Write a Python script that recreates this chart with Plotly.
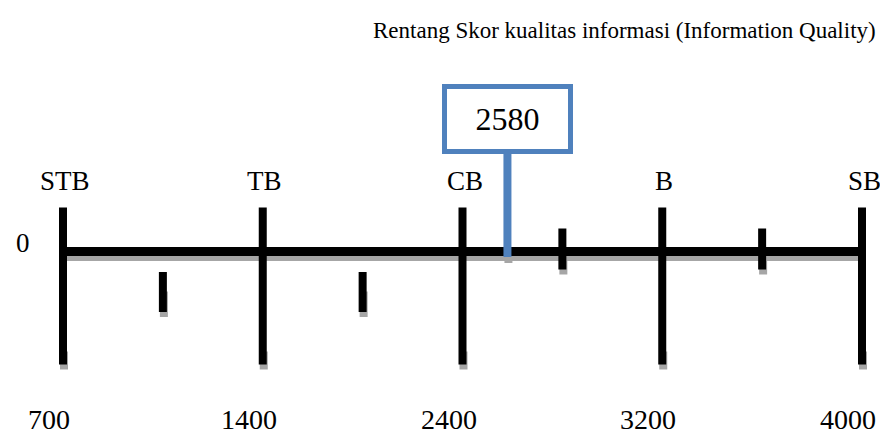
import numpy as np
import plotly.graph_objects as go

# ---- data ----
scale_values = [700, 1400, 2400, 3200, 4000]
category_labels = ["STB", "TB", "CB", "B", "SB"]
minor_values = [1050, 1900, 2800, 3600]
score = 2580
origin_label = "0"
title_text = "Rentang Skor kualitas informasi (Information Quality)"

# ---- styles ----
FONT = "Liberation Serif"
BLACK = "#000000"
SHADOW = "#a6a6a6"
BLUE = "#4F81BD"

idx = np.arange(len(scale_values))


def pos(v):
    return float(np.interp(v, scale_values, idx))


major_x = [pos(v) for v in scale_values]
minor_x = [pos(v) for v in minor_values]
score_x = pos(score)


def vsegs(xs, y0, y1):
    X, Y = [], []
    for x in xs:
        X += [x, x, None]
        Y += [y0, y1, None]
    return X, Y


fig = go.Figure()


def add(X, Y, color, width):
    fig.add_trace(go.Scatter(x=X, y=Y, mode="lines", hoverinfo="skip",
                             line=dict(color=color, width=width)))


px = 1 / 199.75  # one pixel in x units
lower_minor = [x for x, v in zip(minor_x, minor_values) if v < score]
cross_minor = [x for x, v in zip(minor_x, minor_values) if v >= score]

# shadows
add([major_x[0], major_x[-1]], [-7, -7], SHADOW, 5)
X, Y = vsegs([x + px for x in major_x], -100, -118); add(X, Y, SHADOW, 8)
X, Y = vsegs([x + px for x in lower_minor], -40, -65.5); add(X, Y, SHADOW, 8)
X, Y = vsegs([x + px for x in cross_minor], -5, -23); add(X, Y, SHADOW, 8)
X, Y = vsegs([score_x + px], -2, -11.5); add(X, Y, SHADOW, 8)

# main line and ticks
add([major_x[0], major_x[-1]], [0, 0], BLACK, 9)
X, Y = vsegs(major_x, 44, -113); add(X, Y, BLACK, 8)
X, Y = vsegs(lower_minor, -20.5, -60.5); add(X, Y, BLACK, 8)
X, Y = vsegs(cross_minor, 23, -18); add(X, Y, BLACK, 8)

# score marker stem
X, Y = vsegs([score_x], 100.5, -5.5); add(X, Y, BLUE, 8)

annotations = []
for x, lab in zip(major_x, category_labels):
    annotations.append(dict(x=x, y=70.5, xref="x", yref="y", text=lab, showarrow=False,
                            xshift=2, font=dict(family=FONT, size=27, color=BLACK)))
for x, v in zip(major_x, scale_values):
    annotations.append(dict(x=x, y=-185, xref="x", yref="y", text=str(v), showarrow=False,
                            yanchor="bottom", xshift=-14,
                            font=dict(family=FONT, size=28, color=BLACK)))
annotations.append(dict(x=score_x, y=133, xref="x", yref="y", text=str(score), showarrow=False,
                        font=dict(family=FONT, size=32, color=BLACK),
                        bgcolor="white", bordercolor=BLUE, borderwidth=5, borderpad=5,
                        width=111, height=50))
annotations.append(dict(x=14 / 880, y=8.5, xref="paper", yref="y", text=origin_label,
                        showarrow=False, font=dict(family=FONT, size=27, color=BLACK)))
annotations.append(dict(x=878 / 880, y=1 - 31 / 437, xref="paper", yref="paper",
                        text=title_text, showarrow=False, xanchor="right", yanchor="middle",
                        font=dict(family=FONT, size=23, color=BLACK)))

fig.update_layout(
    width=880, height=437,
    margin=dict(l=0, r=0, t=0, b=0),
    paper_bgcolor="white", plot_bgcolor="white",
    showlegend=False,
    xaxis=dict(range=[-63 / 199.75, 4 + 18 / 199.75], visible=False, fixedrange=True),
    yaxis=dict(range=[-185.5, 251.5], visible=False, fixedrange=True),
    annotations=annotations,
)

fig.write_html("out.html", config={"displayModeBar": False},
               post_script="document.body.style.margin='0px';")
